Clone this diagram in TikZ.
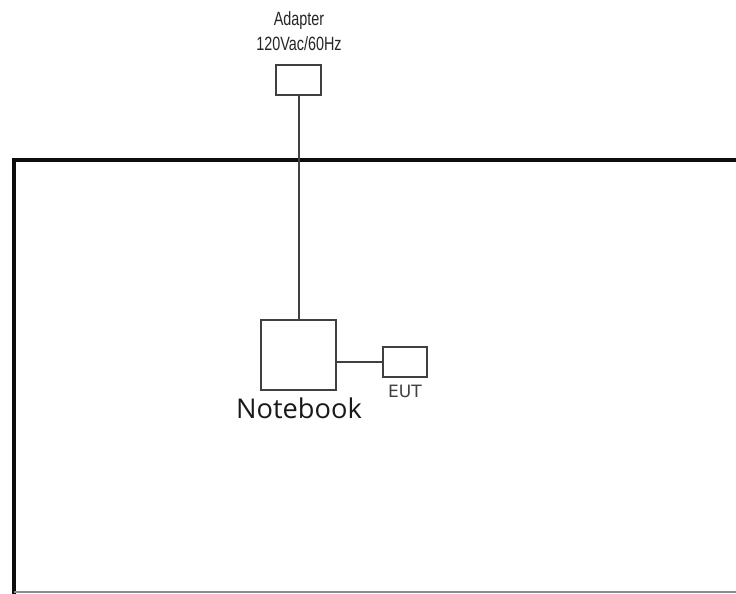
\documentclass[tikz,border=0pt]{standalone}
\usepackage{fontspec}
\setmainfont{Open Sans}
\newfontfamily\adapterfont[FakeStretch=0.75]{Liberation Sans}
\newfontfamily\eutfont{DejaVu Sans}
\usetikzlibrary{positioning}
\definecolor{boxGray}{gray}{0.25}
\definecolor{frameBlack}{gray}{0.05}
\definecolor{edgeGray}{gray}{0.55}
\tikzset{
    unitbox/.style={draw=boxGray, line width=1pt, inner sep=0pt},
    cable/.style={boxGray, line width=1pt}
}

\begin{document}
\begin{tikzpicture}[x=0.5pt, y=-0.5pt]
    \clip (0,0) rectangle (736,594);
    \fill[white] (0,0) rectangle (736,594);

    % Table frame
    \draw[frameBlack, line width=2pt] (14,600) -- (14,160) -- (745,160);
    \draw[edgeGray, line width=0.6pt] (14,592) -- (745,592);

    \node[unitbox, minimum width=22.5pt, minimum height=15pt] (adapter) at (299,80) {};
    \node[above=3pt of adapter, align=center, font=\adapterfont\fontsize{9.6}{12.5}\selectfont, text=black!85] (adapterlbl) {Adapter\\120Vac/60Hz};

    \node[unitbox, minimum width=37.5pt, minimum height=35pt] (notebook) at (299,355) {};
    \node[below=0pt of notebook, font=\fontsize{13.6}{15}\selectfont, text=black!90] (notebooklbl) {Notebook};

    \node[unitbox, minimum width=22pt, minimum height=15pt] (eut) at (405,362) {};
    \node[below=0pt of eut, font=\eutfont\fontsize{8.5}{9}\selectfont, text=boxGray] (eutlbl) {EUT};

    % Cables
    \draw[cable] (adapter) -- (notebook);
    \draw[cable] (notebook.east |- eut) -- (eut);
\end{tikzpicture}
\end{document}
